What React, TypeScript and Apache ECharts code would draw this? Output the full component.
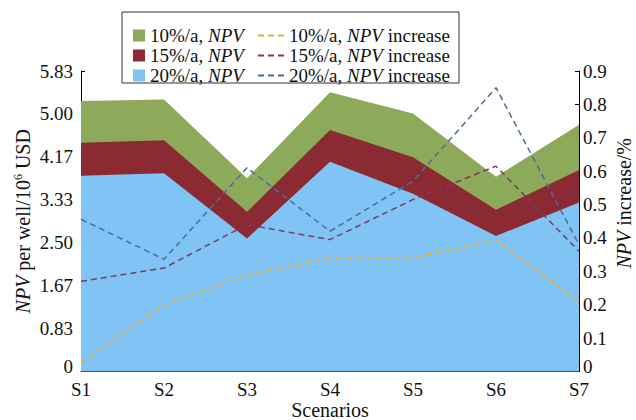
import React, { useEffect, useRef } from "react";
import * as echarts from "echarts";

const categories = ["S1", "S2", "S3", "S4", "S5", "S6", "S7"];
const npv10 = [5.25, 5.28, 3.75, 5.42, 5.01, 3.78, 4.79];
const npv15 = [4.44, 4.49, 3.1, 4.69, 4.16, 3.14, 3.91];
const npv20 = [3.8, 3.85, 2.58, 4.07, 3.45, 2.63, 3.28];
const inc10 = [0.025, 0.2, 0.29, 0.34, 0.34, 0.395, 0.21];
const inc15 = [0.27, 0.31, 0.44, 0.395, 0.515, 0.615, 0.36];
const inc20 = [0.456, 0.336, 0.61, 0.42, 0.57, 0.85, 0.38];
const leftTickLabels = ["0", "0.83", "1.67", "2.50", "3.33", "4.17", "5.00", "5.83"];
const rightTickLabels = ["0", "0.1", "0.2", "0.3", "0.4", "0.5", "0.6", "0.7", "0.8", "0.9"];

const FONT = "'Liberation Serif', 'Times New Roman', serif";
const C_GREEN = "#8DAA5B";
const C_RED = "#8C2A34";
const C_BLUE = "#80C4F6";
const C_ORANGE = "#E9A93A";
const C_PURPLE = "#7E3A5E";
const C_SLATE = "#4D6C9C";

export default function App() {
  const ref = useRef<HTMLDivElement>(null);
  useEffect(() => {
    document.body.style.margin = "0";
    const chart = echarts.init(ref.current!, null, { renderer: "svg" });
    const areaSeries = (name: string, data: number[], color: string) => ({
      name,
      type: "line",
      data,
      yAxisIndex: 0,
      symbol: "none",
      lineStyle: { width: 0, color },
      itemStyle: { color },
      areaStyle: { color, opacity: 1 },
      z: 2,
    });
    const dashSeries = (name: string, data: number[], color: string) => ({
      name,
      type: "line",
      data,
      yAxisIndex: 1,
      symbol: "none",
      lineStyle: { width: 1.5, color, type: [6, 4] },
      itemStyle: { color },
      z: 3,
    });
    const legendText = {
      fontFamily: FONT,
      fontSize: 19,
      color: "#111",
      lineHeight: 18,
      rich: {
        i: { fontFamily: FONT, fontSize: 19, lineHeight: 18, fontStyle: "italic", color: "#111" },
      },
    };
    const fmt = (name: string) => name.replace("NPV", "{i|NPV}");
    const zeroRich = { z: { fontSize: 19, fontFamily: FONT, color: "#111", padding: [0, 0, 10, 0] } };
    const tickFmt = (labels: string[]) => (_v: number, i: number) =>
      i === 0 ? `{z|${labels[0]}}` : labels[i] ?? "";
    chart.setOption({
      animation: false,
      backgroundColor: "#fff",
      grid: { left: 81, right: 57, top: 71, bottom: 48.5, outerBoundsMode: "none" },
      graphic: [
        {
          type: "rect",
          z: 3,
          shape: { x: 122, y: 12, width: 337, height: 71 },
          style: { fill: "#fff", stroke: "#333", lineWidth: 1 },
        },
      ],
      legend: [
        {
          orient: "vertical",
          left: 128,
          top: 21,
          itemWidth: 12,
          itemHeight: 12,
          itemGap: 1,
          icon: "rect",
          data: ["10%/a, NPV", "15%/a, NPV", "20%/a, NPV"],
          formatter: fmt,
          textStyle: legendText,
          z: 4,
        },
        {
          orient: "vertical",
          left: 252,
          top: 21,
          itemWidth: 26,
          itemHeight: 12,
          itemGap: 1,
          itemStyle: { opacity: 0 },
          data: ["10%/a, NPV increase", "15%/a, NPV increase", "20%/a, NPV increase"],
          formatter: fmt,
          textStyle: legendText,
          z: 4,
        },
      ],
      xAxis: {
        type: "category",
        data: categories,
        boundaryGap: false,
        axisLine: { lineStyle: { color: "#000", width: 1 } },
        axisTick: { inside: true, length: 4, lineStyle: { color: "#000" } },
        axisLabel: { color: "#111", fontSize: 19, fontFamily: FONT, margin: 8 },
        splitLine: { show: false },
        name: "Scenarios",
        nameLocation: "middle",
        nameGap: 28,
        nameMoveOverlap: false,
        nameTextStyle: { color: "#111", fontSize: 20, fontFamily: FONT },
      },
      yAxis: [
        {
          type: "value",
          min: 0,
          max: 35 / 6,
          interval: 5 / 6,
          axisLine: { show: true, lineStyle: { color: "#000", width: 1 } },
          axisTick: { show: true, inside: true, length: 4, lineStyle: { color: "#000" } },
          splitLine: { show: false },
          axisLabel: {
            color: "#111",
            fontSize: 19,
            fontFamily: FONT,
            margin: 8,
            formatter: tickFmt(leftTickLabels),
            rich: zeroRich,
          },
          name: "{i|NPV} per well/10{s|6} USD",
          nameLocation: "middle",
          nameRotate: 90,
          nameGap: 48,
          nameMoveOverlap: false,
          nameTextStyle: {
            color: "#111",
            fontSize: 20,
            fontFamily: FONT,
            rich: {
              i: { fontStyle: "italic", fontSize: 20, fontFamily: FONT, color: "#111" },
              s: { fontSize: 12, fontFamily: FONT, color: "#111", padding: [0, 0, 9, 0] },
            },
          },
        },
        {
          type: "value",
          position: "right",
          min: 0,
          max: 0.9,
          interval: 0.1,
          axisLine: { show: true, lineStyle: { color: "#000", width: 1 } },
          axisTick: { show: true, inside: true, length: 4, lineStyle: { color: "#000" } },
          splitLine: { show: false },
          axisLabel: {
            color: "#111",
            fontSize: 19,
            fontFamily: FONT,
            margin: 4,
            formatter: tickFmt(rightTickLabels),
            rich: zeroRich,
          },
          name: "{i|NPV} increase/%",
          nameLocation: "middle",
          nameRotate: 90,
          nameGap: 35,
          nameMoveOverlap: false,
          nameTextStyle: {
            color: "#111",
            fontSize: 20,
            fontFamily: FONT,
            padding: [0, 0, 0, 36],
            rich: { i: { fontStyle: "italic", fontSize: 20, fontFamily: FONT, color: "#111" } },
          },
        },
      ],
      series: [
        areaSeries("10%/a, NPV", npv10, C_GREEN),
        areaSeries("15%/a, NPV", npv15, C_RED),
        areaSeries("20%/a, NPV", npv20, C_BLUE),
        dashSeries("10%/a, NPV increase", inc10, C_ORANGE),
        dashSeries("15%/a, NPV increase", inc15, C_PURPLE),
        dashSeries("20%/a, NPV increase", inc20, C_SLATE),
      ],
    });
    return () => chart.dispose();
  }, []);
  return <div ref={ref} style={{ width: 636, height: 420 }} />;
}
